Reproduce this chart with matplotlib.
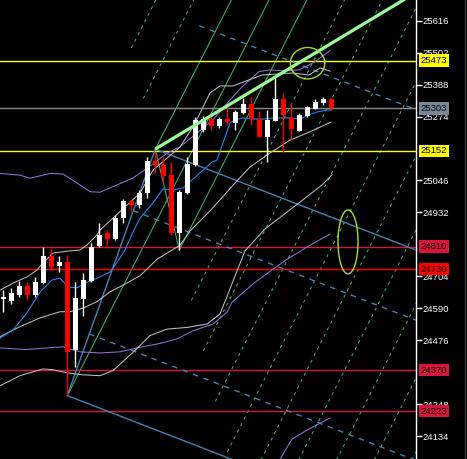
import matplotlib
matplotlib.use('Agg')
import matplotlib.pyplot as plt
from matplotlib.patches import Ellipse, Rectangle
from matplotlib.lines import Line2D

# ---------------- data ----------------
opens  = [24623, 24617, 24638, 24670, 24638, 24679, 24777, 24741, 24754, 24442,
          24622, 24689, 24812, 24860, 24837, 24912, 24973, 24959, 25001, 25115,
          25101, 25067, 24860, 25002, 25101, 25226, 25265, 25240, 25265, 25252,
          25288, 25319, 25264, 25202, 25259, 25336, 25270, 25224, 25277, 25301,
          25323, 25335]
highs  = [24655, 24662, 24689, 24685, 24703, 24810, 24801, 24777, 24780, 24685,
          24716, 24823, 24894, 24869, 24923, 24980, 24976, 25012, 25130, 25148,
          25130, 25113, 25012, 25130, 25273, 25276, 25273, 25272, 25309, 25297,
          25339, 25344, 25294, 25297, 25415, 25357, 25321, 25288, 25311, 25336,
          25345, 25340]
lows   = [24578, 24606, 24630, 24620, 24630, 24677, 24727, 24721, 24279, 24381,
          24563, 24684, 24809, 24816, 24834, 24894, 24937, 24948, 24983, 25074,
          25042, 24852, 24798, 24998, 25098, 25219, 25226, 25234, 25244, 25226,
          25283, 25244, 25200, 25112, 25258, 25149, 25194, 25222, 25272, 25301,
          25315, 25298]
closes = [24630, 24646, 24670, 24638, 24685, 24777, 24736, 24754, 24435, 24626,
          24691, 24809, 24852, 24836, 24912, 24973, 24959, 25001, 25115, 25101,
          25062, 24860, 25005, 25106, 25262, 25265, 25241, 25265, 25253, 25290,
          25319, 25264, 25202, 25262, 25336, 25279, 25229, 25279, 25307, 25327,
          25335, 25303]

# moving average (blue)
ma_x = [-0.41, 1.21, 2.96, 4.59, 6.09, 7.09, 8.09, 9.21, 10.21, 12.09, 13.34, 14.34,
        15.21, 16.09, 17.09, 18.71, 19.96, 21.21, 22.46, 24.59, 26.09, 26.71, 28.34,
        28.96, 29.96, 31.21, 32.46, 33.71, 35.84, 37.09, 38.09, 39.21, 40.46, 40.96]
ma_y = [24484, 24513, 24574, 24648, 24691, 24698, 24666, 24663, 24680, 24702, 24720, 24759,
        24798, 24855, 24912, 24966, 25016, 25012, 25019, 25073, 25112, 25119, 25251,
        25262, 25269, 25265, 25265, 25269, 25269, 25265, 25279, 25290, 25297, 25297]

# purple bands
pu_x = [-0.41, 2.09, 3.34, 5.84, 7.46, 9.21, 10.84, 12.09, 14.21, 16.21, 17.96, 20.46,
        22.09, 24.21, 26.21, 28.34, 29.84, 31.96, 33.21, 35.21, 36.96, 38.96, 40.84]
pu_y = [25071, 25065, 25054, 25071, 25069, 25037, 25006, 25004, 25030, 25055, 25089, 25143,
        25166, 25215, 25262, 25333, 25380, 25434, 25440, 25437, 25440, 25469, 25509]
pl_x = [-0.41, 2.96, 5.46, 7.46, 9.59, 12.09, 14.59, 17.09, 19.59, 21.71, 23.71, 26.21,
        27.96, 28.59, 31.46, 35.21, 38.21, 40.84]
pl_y = [24449, 24443, 24449, 24453, 24435, 24431, 24435, 24451, 24465, 24481, 24510, 24534,
        24576, 24612, 24683, 24760, 24813, 24855]
p2_x = [34.09, 36.09, 38.21, 40.84]
p2_y = [24028, 24124, 24160, 24199]

# silver bands
su_x = [-0.41, 1.21, 2.96, 4.21, 4.96, 6.21, 7.96, 9.59, 10.46, 11.71, 12.09, 17.09,
        18.71, 22.09, 23.71, 24.59, 25.84, 27.09, 28.71, 32.34, 36.09, 38.21, 39.59, 40.84]
su_y = [24655, 24680, 24702, 24727, 24752, 24787, 24794, 24798, 24816, 24852, 24869, 25001,
        25083, 25165, 25237, 25286, 25358, 25383, 25383, 25422, 25429, 25422, 25447, 25436]
sm_x = [-0.41, 2.09, 4.59, 7.09, 8.34, 9.96, 11.71, 13.34, 14.59, 17.09, 19.21, 22.09,
        23.34, 25.96, 27.96, 28.96, 30.84, 33.34, 35.84, 38.21, 40.96]
sm_y = [24489, 24525, 24556, 24578, 24578, 24591, 24614, 24649, 24667, 24706, 24765, 24815,
        24866, 24941, 25005, 25037, 25094, 25144, 25190, 25218, 25254]
sl_x = [-0.41, 2.09, 4.96, 6.21, 7.96, 9.96, 12.09, 13.71, 16.21, 18.34, 20.46, 22.96,
        25.46, 27.09, 28.34, 30.21, 32.71, 36.96, 39.84, 41.09]
sl_y = [24314, 24350, 24374, 24371, 24360, 24353, 24350, 24368, 24433, 24493, 24516, 24522,
        24534, 24570, 24660, 24795, 24873, 24966, 25030, 25066]

# horizontal levels
levels = [25473, 25303, 25152, 24810, 24730, 24370, 24223]
level_colors = ['#FFFF00', '#8C8C8C', '#FFFF00', '#DC143C', '#FF0000', '#DC143C', '#DC143C']
label_colors = ['#FFFF00', '#778899', '#FFFF00', '#DC143C', '#FF0000', '#DC143C', '#DC143C']

yticks = [25616, 25502, 25388, 25274, 25046, 24932, 24704, 24590, 24476, 24248, 24134]

# trend line through two highs
trend_x = [19, 34]
trend_y = [25158, 25415]

# pitchfork anchors (bar index, price) and levels
pf_p1 = (8, 24279)
pf_p2 = (19, 25158)
pf_p3 = (22, 24798)
pf_dashed_levels = [-3, -2, 2, 3, 4, 5, 6, 7, 8, 9, 10]

# channel anchors, slope (price per bar) and levels
ch_p1 = (8, 24279)
ch_p2 = (19, 25158)
ch_slope = -11.05
ch_solid_levels = [0, 1]
ch_dashed_levels = [-0.5, 0.25, 0.75]

# ellipses (center idx, center price, width bars, height price)
ellipses = [(38.03, 25464, 4.3, 112), (43.09, 24827, 2.5, 228)]

# ---------------- figure ----------------
W, H = 467, 459
fig = plt.figure(figsize=(W / 100, H / 100), dpi=100, facecolor='black')
ax = fig.add_axes([0, 0, 416 / W, 1])
ax.set_facecolor('black')
XMIN, XMAX = -0.4125, 51.5875
ax.set_xlim(XMIN, XMAX)
ax.set_ylim(24052.9, 25689.4)
XFAR = 70

lw1 = 0.75
for lv, c in zip(levels, level_colors):
    ax.axhline(lv, color=c, lw=1.0, zorder=2)

# ---- pitchfork (green) ----
gcol = '#3CB371'
mx = (pf_p2[0] + pf_p3[0]) / 2
my = (pf_p2[1] + pf_p3[1]) / 2
k = (my - pf_p1[1]) / (mx - pf_p1[0])
hx, hy = pf_p3[0] - mx, pf_p3[1] - my


def ray(x0, y0, slope):
    return [x0, XFAR], [y0, y0 + slope * (XFAR - x0)]


for (x0, y0) in [pf_p1, pf_p2, pf_p3]:
    xs, ys = ray(x0, y0, k)
    ax.plot(xs, ys, color=gcol, lw=lw1, zorder=1)
ax.plot([pf_p2[0], pf_p3[0]], [pf_p2[1], pf_p3[1]], color=gcol, lw=lw1, zorder=1)
for t in pf_dashed_levels:
    xs, ys = ray(mx + t * hx, my + t * hy, k)
    ax.plot(xs, ys, color=gcol, lw=lw1, ls=(0, (3, 4)), zorder=1)

# ---- channel (steel blue) ----
bcol = '#4682B4'
kk = (ch_p2[1] - ch_p1[1]) / (ch_p2[0] - ch_p1[0])
wd = (ch_p2[1] + ch_slope * (ch_p1[0] - ch_p2[0])) - ch_p1[1]


def ch_line(L):
    i0 = (ch_p2[1] - ch_slope * ch_p2[0] - L * wd - ch_p1[1] + kk * ch_p1[0]) / (kk - ch_slope)
    y0 = ch_p2[1] + ch_slope * (i0 - ch_p2[0]) - L * wd
    return ray(i0, y0, ch_slope)


ax.plot([ch_p1[0], ch_p2[0]], [ch_p1[1], ch_p2[1]], color=bcol, lw=1.0, zorder=3)
for L in ch_solid_levels:
    xs, ys = ch_line(L)
    ax.plot(xs, ys, color=bcol, lw=1.0, zorder=3)
for L in ch_dashed_levels:
    xs, ys = ch_line(L)
    ax.plot(xs, ys, color=bcol, lw=1.0, ls=(0, (4, 4)), zorder=3)

# bands
ax.plot(pu_x, pu_y, color='#9370DB', lw=lw1, zorder=3)
ax.plot(pl_x, pl_y, color='#9370DB', lw=lw1, zorder=3)
ax.plot(p2_x, p2_y, color='#9370DB', lw=lw1, zorder=3)
ax.plot(su_x, su_y, color='#C0C0C0', lw=lw1, zorder=3)
ax.plot(sm_x, sm_y, color='#C0C0C0', lw=lw1, zorder=3)
ax.plot(sl_x, sl_y, color='#C0C0C0', lw=lw1, zorder=3)
ax.plot(ma_x, ma_y, color='#1E90FF', lw=lw1, zorder=4)

# candles
bw = 0.62
for i, (o, h, l, c) in enumerate(zip(opens, highs, lows, closes)):
    col = '#FFFFFF' if c >= o else '#FF0000'
    ax.plot([i, i], [l, h], color=col, lw=1.0, zorder=5, solid_capstyle='butt')
    ax.add_patch(Rectangle((i - bw / 2, min(o, c)), bw, max(abs(c - o), 4),
                           facecolor=col, edgecolor=col, lw=0, zorder=6))

# trend line extended through the two highs
tk = (trend_y[1] - trend_y[0]) / (trend_x[1] - trend_x[0])
xs, ys = ray(trend_x[0], trend_y[0], tk)
ax.plot(xs, ys, color='#98FB98', lw=2.3, zorder=7, solid_capstyle='butt')

for cx, cy, w, h in ellipses:
    ax.add_patch(Ellipse((cx, cy), w, h, fill=False, edgecolor='#A0E030', lw=1.0, zorder=7))

# axis styling
for s in ['top', 'left', 'bottom']:
    ax.spines[s].set_visible(False)
ax.spines['right'].set_color('white')
ax.spines['right'].set_linewidth(1.0)
ax.set_xticks([])
ax.yaxis.tick_right()
ax.set_yticks(yticks)
ax.set_yticklabels([str(t) for t in yticks])
ax.tick_params(axis='y', colors='white', length=4, width=1, labelsize=6.8, pad=0.5,
               labelfontfamily='Liberation Sans')

for lv, c in zip(levels, label_colors):
    ax.annotate(str(lv), xy=(1, lv), xycoords=('axes fraction', 'data'),
                xytext=(4.5, 0), textcoords='offset pixels', va='center', ha='left',
                fontsize=6.8, family='Liberation Sans', color='black', zorder=10,
                annotation_clip=False,
                bbox=dict(boxstyle='square,pad=0.18', facecolor=c, edgecolor='none'))

fig.add_artist(Line2D([464.5 / W, 464.5 / W], [0, 1], color='#3A3A3A', lw=1.0,
                      transform=fig.transFigure))

fig.savefig('out.png', dpi=100, facecolor='black')
